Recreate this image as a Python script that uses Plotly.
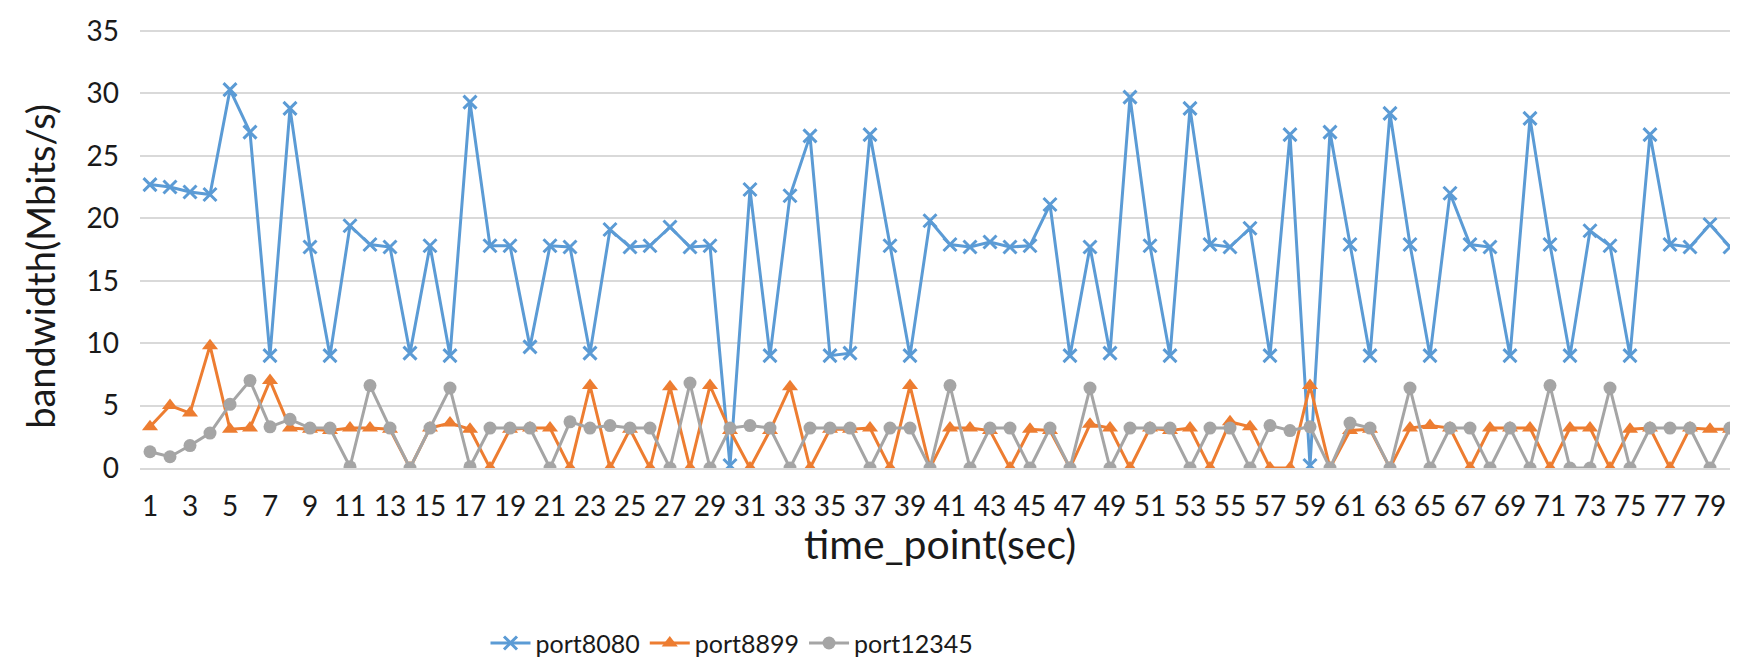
import plotly.graph_objects as go

time_points = list(range(1, 81))
tick_labels = [str(i) for i in range(1, 81, 2)]

port8080 = [22.7, 22.5, 22.1, 21.9, 30.3, 26.9, 9.0, 28.8, 17.7, 9.0,
            19.4, 17.9, 17.7, 9.2, 17.8, 9.0, 29.3, 17.8, 17.8, 9.7,
            17.8, 17.7, 9.2, 19.1, 17.7, 17.8, 19.3, 17.7, 17.8, 0.2,
            22.3, 9.0, 21.8, 26.6, 9.0, 9.2, 26.7, 17.8, 9.0, 19.8,
            17.9, 17.7, 18.1, 17.7, 17.8, 21.1, 9.0, 17.7, 9.2, 29.7,
            17.8, 9.0, 28.8, 17.9, 17.7, 19.2, 9.0, 26.7, 0.2, 26.9,
            17.9, 9.0, 28.4, 17.9, 9.0, 22.0, 17.9, 17.7, 9.0, 28.0,
            17.9, 9.0, 19.0, 17.8, 9.0, 26.7, 17.9, 17.7, 19.5, 17.7]

port8899 = [3.3, 5.0, 4.4, 9.8, 3.1, 3.2, 7.0, 3.2, 3.1, 3.0,
            3.2, 3.2, 3.1, 0.0, 3.2, 3.6, 3.1, 0.0, 3.1, 3.2,
            3.2, 0.0, 6.6, 0.0, 3.1, 0.0, 6.5, 0.0, 6.6, 3.0,
            0.0, 3.0, 6.5, 0.0, 3.1, 3.1, 3.2, 0.0, 6.6, 0.0,
            3.2, 3.2, 3.0, 0.0, 3.1, 3.0, 0.0, 3.5, 3.2, 0.0,
            3.2, 3.0, 3.2, 0.0, 3.7, 3.3, 0.0, 0.0, 6.6, 0.0,
            3.0, 3.1, 0.0, 3.2, 3.4, 3.2, 0.0, 3.2, 3.2, 3.2,
            0.0, 3.2, 3.2, 0.0, 3.1, 3.2, 0.0, 3.2, 3.1, 3.1]

port12345 = [1.3, 0.9, 1.8, 2.8, 5.1, 7.0, 3.3, 3.9, 3.2, 3.2,
             0.1, 6.6, 3.2, 0.0, 3.2, 6.4, 0.1, 3.2, 3.2, 3.2,
             0.0, 3.7, 3.2, 3.4, 3.2, 3.2, 0.0, 6.8, 0.0, 3.2,
             3.4, 3.2, 0.0, 3.2, 3.2, 3.2, 0.0, 3.2, 3.2, 0.0,
             6.6, 0.0, 3.2, 3.2, 0.0, 3.2, 0.0, 6.4, 0.0, 3.2,
             3.2, 3.2, 0.0, 3.2, 3.2, 0.0, 3.4, 3.0, 3.3, 0.0,
             3.6, 3.2, 0.0, 6.4, 0.0, 3.2, 3.2, 0.0, 3.2, 0.0,
             6.6, 0.0, 0.0, 6.4, 0.0, 3.2, 3.2, 3.2, 0.0, 3.2]

FONT = "Lato"
W, H = 1738, 663
L, R, T, B = 132, 6, 5, 192

fig = go.Figure()
fig.add_trace(go.Scatter(x=time_points, y=port8080, name="port8080", mode="lines+markers",
                         line=dict(color="#5B9BD5", width=3),
                         marker=dict(symbol="x-thin", size=13, color="#5B9BD5",
                                     line=dict(color="#5B9BD5", width=3))))
fig.add_trace(go.Scatter(x=time_points, y=port8899, name="port8899", mode="lines+markers",
                         line=dict(color="#ED7D31", width=3),
                         marker=dict(symbol="triangle-up", size=14, color="#ED7D31")))
fig.add_trace(go.Scatter(x=time_points, y=port12345, name="port12345", mode="lines+markers",
                         line=dict(color="#A5A5A5", width=3),
                         marker=dict(symbol="circle", size=13, color="#A5A5A5")))

fig.update_layout(
    width=W, height=H,
    margin=dict(l=L, r=R, t=T, b=B),
    paper_bgcolor="white", plot_bgcolor="white",
    font=dict(family=FONT, size=28, color="#1a1a1a"),
    showlegend=True,
    legend=dict(orientation="h", x=0.37, xanchor="center", y=-0.392, yanchor="middle",
                font=dict(size=25, color="#1a1a1a"), itemwidth=40),
    annotations=[
        dict(text="time_point(sec)", xref="paper", yref="paper", x=0.5, y=-0.168,
             xanchor="center", yanchor="middle", showarrow=False,
             font=dict(size=41, family=FONT, color="#1a1a1a")),
        dict(text="bandwidth(Mbits/s)", xref="paper", yref="paper", x=-0.0625, y=0.45,
             xanchor="center", yanchor="middle", textangle=-90, showarrow=False,
             font=dict(size=38, family=FONT, color="#1a1a1a")),
    ],
)
fig.update_xaxes(range=[0.5, 80.5], tickmode="array",
                 tickvals=list(range(1, 81, 2)), ticktext=tick_labels,
                 showgrid=False, zeroline=False, showline=True, linecolor="#D9D9D9",
                 linewidth=2, ticks="", tickfont=dict(size=28), ticklabelstandoff=12)
fig.update_yaxes(range=[0, 35.8], tickmode="array", tickvals=[0, 5, 10, 15, 20, 25, 30, 35],
                 showgrid=True, gridcolor="#D9D9D9", gridwidth=2,
                 zeroline=False, showline=False, ticks="", tickfont=dict(size=28),
                 ticklabelstandoff=20, ticklabeloverflow="allow")

fig.write_html("out.html")
